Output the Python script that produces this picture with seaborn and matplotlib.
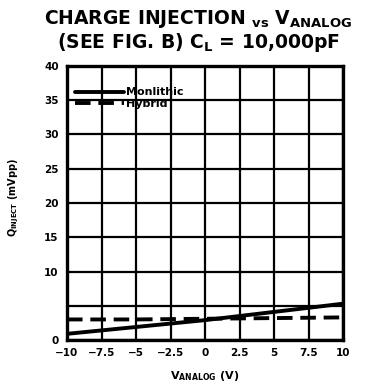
import matplotlib
matplotlib.use("Agg")
import matplotlib.pyplot as plt
import seaborn as sns
import pandas as pd

# Charge injection versus analog voltage, C_L = 10,000 pF
v_analog = [-10, -5, 0, 5, 10]
monolithic = [0.9, 1.9, 2.9, 4.1, 5.3]
hybrid = [3.0, 3.0, 3.1, 3.2, 3.3]
series_names = ["Monlithic", "Hybrid"]

x_ticks = [-10, -7.5, -5, -2.5, 0, 2.5, 5, 7.5, 10]
x_tick_labels = ["\u221210", "\u22127.5", "\u22125", "\u22122.5", "0", "2.5", "5", "7.5", "10"]
y_ticks = [0, 10, 15, 20, 25, 30, 35, 40]
y_grid = [0, 5, 10, 15, 20, 25, 30, 35, 40]

df = pd.DataFrame({
    "V": v_analog * 2,
    "Q": monolithic + hybrid,
    "type": [series_names[0]] * len(v_analog) + [series_names[1]] * len(v_analog),
})

sns.set_theme(style="white")
plt.rcParams["font.family"] = ["DejaVu Sans"]
plt.rcParams["font.weight"] = "bold"
plt.rcParams["text.color"] = "black"
plt.rcParams["axes.labelcolor"] = "black"
plt.rcParams["xtick.color"] = "black"
plt.rcParams["ytick.color"] = "black"
plt.rcParams["mathtext.fontset"] = "custom"
plt.rcParams["mathtext.rm"] = "DejaVu Sans:bold"
plt.rcParams["mathtext.it"] = "DejaVu Sans:bold"
plt.rcParams["mathtext.bf"] = "DejaVu Sans:bold"

fig = plt.figure(figsize=(3.85, 3.91), dpi=100)
ax = fig.add_axes([67 / 385, 1 - 340 / 391, (343 - 67) / 385, (340 - 66) / 391])

sns.lineplot(
    data=df, x="V", y="Q", style="type", color="black",
    dashes={series_names[0]: "", series_names[1]: (4, 2)},
    linewidth=2.8, ax=ax, legend=True,
)

ax.set_xlim(-10, 10)
ax.set_ylim(0, 40)
ax.set_xticks(x_ticks)
ax.set_xticklabels(x_tick_labels, fontsize=7.5, fontweight="bold")
ax.set_yticks(y_grid)
ax.set_yticklabels(["" if v not in y_ticks else str(v) for v in y_grid],
                   fontsize=7.5, fontweight="bold")
ax.grid(True, color="black", linewidth=1.6)
ax.tick_params(length=0, pad=6)
for s in ax.spines.values():
    s.set_color("black")
    s.set_linewidth(2.4)

ax.set_xlabel(r"$\mathregular{V_{ANALOG}}$ (V)", fontsize=8, fontweight="bold", labelpad=8)
ax.set_ylabel(r"$\mathregular{Q_{INJECT}}$ (mVpp)", fontsize=7, fontweight="bold")
ax.yaxis.set_label_coords(-0.165, 0.52)

leg = ax.legend(loc="upper left", frameon=False, handlelength=4.4, handletextpad=0.2,
                borderaxespad=0.3, labelspacing=0.1, fontsize=8,
                bbox_to_anchor=(0.0, 0.95))
for t in leg.get_texts():
    t.set_fontweight("bold")
for h in leg.get_lines():
    h.set_linewidth(2.8)
    h.set_color("black")

fig.text(0.515, 1 - 19 / 391, r"CHARGE INJECTION $\mathregular{_{vs}}$ V$\mathregular{_{ANALOG}}$",
         ha="center", va="center", fontsize=13.5, fontweight="bold")
fig.text(0.515, 1 - 42 / 391, r"(SEE FIG. B) C$\mathregular{_{L}}$ = 10,000pF",
         ha="center", va="center", fontsize=13.5, fontweight="bold")

fig.savefig("out.png", dpi=100)
